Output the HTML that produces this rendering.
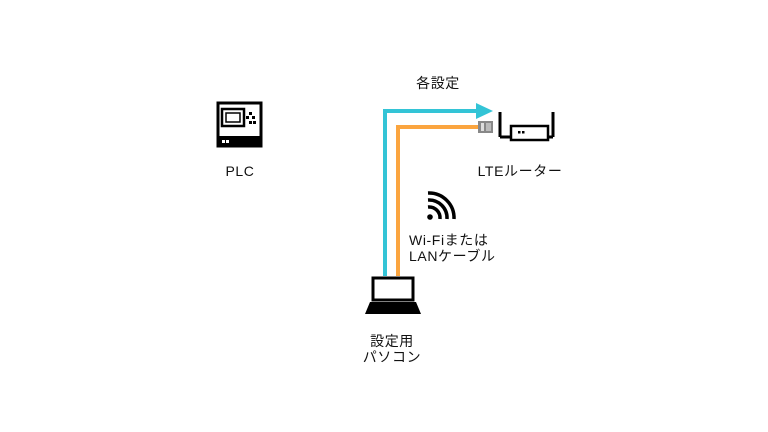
<!DOCTYPE html>
<html><head><meta charset="utf-8"><style>
body{margin:0;width:768px;height:432px;background:#fff;overflow:hidden;}
svg{position:absolute;left:0;top:0}
text{font-family:"Liberation Sans","Noto Sans CJK JP",sans-serif;font-size:14px;fill:#111;letter-spacing:0.6px}
</style></head><body>
<svg width="768" height="432" viewBox="0 0 768 432">
<polyline points="385,276 385,111 478,111" fill="none" stroke="#33c4d6" stroke-width="4"/>
<polygon points="476,103 493,111 476,119" fill="#33c4d6"/>
<polyline points="398,276 398,127 478,127" fill="none" stroke="#fba53f" stroke-width="4"/>
<rect x="478" y="121" width="15" height="12" fill="#888"/>
<rect x="481" y="123" width="3" height="8" fill="#ddd"/>
<rect x="486" y="123" width="5" height="8" fill="#bbb"/>
<line x1="500" y1="112" x2="500" y2="137" stroke="#000" stroke-width="3"/>
<line x1="553" y1="112" x2="553" y2="137" stroke="#000" stroke-width="3"/>
<line x1="500" y1="137" x2="553" y2="137" stroke="#000" stroke-width="3"/>
<rect x="511" y="126" width="37" height="14" fill="#fff" stroke="#000" stroke-width="2.5"/>
<rect x="518" y="131" width="2.5" height="2.5" fill="#000"/><rect x="522" y="131" width="2.5" height="2.5" fill="#000"/>
<rect x="218" y="103" width="43" height="43" fill="#fff" stroke="#000" stroke-width="3"/>
<rect x="218" y="136" width="43" height="10" fill="#000"/>
<rect x="222" y="109" width="22" height="17" fill="#fff" stroke="#000" stroke-width="2.5"/>
<rect x="226" y="113" width="14" height="9" fill="#fff" stroke="#000" stroke-width="1.5"/>
<rect x="249" y="112" width="3" height="3"/><rect x="246" y="116" width="3" height="3"/><rect x="252" y="116" width="3" height="3"/>
<rect x="249" y="121" width="3" height="3"/><rect x="253" y="121" width="3" height="3"/>
<rect x="222" y="140" width="3" height="3" fill="#fff"/><rect x="226" y="140" width="3" height="3" fill="#fff"/>
<rect x="373" y="278" width="40" height="22" fill="#fff" stroke="#000" stroke-width="3"/>
<polygon points="370,302 416,302 421,314 365,314" fill="#000"/>
<circle cx="430" cy="217" r="2.8" fill="#000"/>
<path d="M428 207 A11 11 0 0 1 440 219" fill="none" stroke="#000" stroke-width="3.5"/>
<path d="M428 200 A18 18 0 0 1 447 219" fill="none" stroke="#000" stroke-width="3.5"/>
<path d="M428 193 A25 25 0 0 1 454 219" fill="none" stroke="#000" stroke-width="3.5"/>
<text x="438" y="88" text-anchor="middle">各設定</text>
<text x="520" y="176" text-anchor="middle">LTEルーター</text>
<text x="240" y="176" text-anchor="middle">PLC</text>
<text x="409" y="245">Wi-Fiまたは</text>
<text x="409" y="261">LANケーブル</text>
<text x="392" y="346" text-anchor="middle">設定用</text>
<text x="392" y="362" text-anchor="middle">パソコン</text>
</svg>
</body></html>
